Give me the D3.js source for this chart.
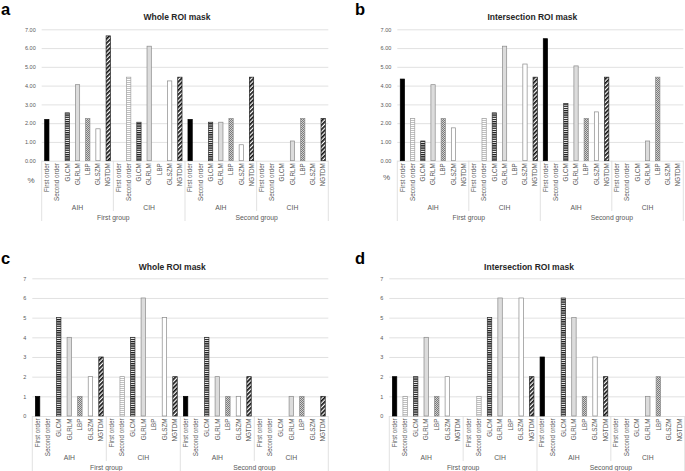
<!DOCTYPE html>
<html>
<head>
<meta charset="utf-8">
<script src="https://cdn.jsdelivr.net/npm/d3@7"></script>
<style>
  body { margin: 0; background: #fff; }
  svg { font-family: "Liberation Sans", Arial, sans-serif; }
</style>
</head>
<body>
<div id="chart"></div>
<script>
// Categories
var features = ["First order", "Second order", "GLCM", "GLRLM", "LBP", "GLSZM", "NGTDM"];
var subgroups = ["AIH", "CIH"];
var groups = ["First group", "Second group"];

// Values: rows = First group AIH, First group CIH, Second group AIH, Second group CIH
var wholePct = [
    [2.2, 0, 2.55, 4.05, 2.25, 1.7, 6.65],
    [0, 4.45, 2.05, 6.1, 0, 4.25, 4.45],
    [2.2, 0, 2.05, 2.05, 2.25, 0.85, 4.45],
    [0, 0, 0, 1.05, 2.25, 0, 2.25]
];
var interPct = [
    [4.35, 2.25, 1.05, 4.05, 2.25, 1.75, 0],
    [0, 2.25, 2.55, 6.1, 0, 5.15, 4.45],
    [6.5, 0, 3.05, 5.05, 2.25, 2.6, 4.45],
    [0, 0, 0, 1.05, 4.45, 0, 0]
];
var wholeCount = [
    [1, 0, 5, 4, 1, 2, 3],
    [0, 2, 4, 6, 0, 5, 2],
    [1, 0, 4, 2, 1, 1, 2],
    [0, 0, 0, 1, 1, 0, 1]
];
var interCount = [
    [2, 1, 2, 4, 1, 2, 0],
    [0, 1, 5, 6, 0, 6, 2],
    [3, 0, 6, 5, 1, 3, 2],
    [0, 0, 0, 1, 2, 0, 0]
];
var yTicks = [0, 1, 2, 3, 4, 5, 6, 7];

var svg = d3.select("#chart")
 .append("svg")
 .attr("width", 685)
 .attr("height", 471);

// Fill patterns
var defs = svg.append("defs");

var pSecond = defs.append("pattern")
 .attr("id", "pSecond").attr("patternUnits", "userSpaceOnUse")
 .attr("width", 4).attr("height", 2);
pSecond.append("rect").attr("width", 4).attr("height", 2).attr("fill", "#fff");
pSecond.append("rect").attr("width", 4).attr("height", 0.8).attr("fill", "#b0b0b0");

var pGlcm = defs.append("pattern")
 .attr("id", "pGlcm").attr("patternUnits", "userSpaceOnUse")
 .attr("width", 4).attr("height", 2.2);
pGlcm.append("rect").attr("width", 4).attr("height", 2.2).attr("fill", "#fff");
pGlcm.append("rect").attr("width", 4).attr("height", 1.3).attr("fill", "#1a1a1a");

var pLbp = defs.append("pattern")
 .attr("id", "pLbp").attr("patternUnits", "userSpaceOnUse")
 .attr("width", 2).attr("height", 2);
pLbp.append("rect").attr("width", 2).attr("height", 2).attr("fill", "#d0d0d0");
pLbp.append("rect").attr("width", 1).attr("height", 1).attr("fill", "#7a7a7a");
pLbp.append("rect").attr("x", 1).attr("y", 1).attr("width", 1).attr("height", 1).attr("fill", "#7a7a7a");

var pNgtdm = defs.append("pattern")
 .attr("id", "pNgtdm").attr("patternUnits", "userSpaceOnUse")
 .attr("width", 3).attr("height", 3)
 .attr("patternTransform", "rotate(-45)");
pNgtdm.append("rect").attr("width", 3).attr("height", 3).attr("fill", "#fff");
pNgtdm.append("rect").attr("width", 3).attr("height", 1.7).attr("fill", "#111");

var barStyle = {
    "First order": { fill: "#000", stroke: "#000" },
    "Second order": { fill: "url(#pSecond)", stroke: "#a0a0a0" },
    "GLCM": { fill: "url(#pGlcm)", stroke: "#333" },
    "GLRLM": { fill: "#dcdcdc", stroke: "#8a8a8a" },
    "LBP": { fill: "url(#pLbp)", stroke: "#8a8a8a" },
    "GLSZM": { fill: "#fff", stroke: "#8a8a8a" },
    "NGTDM": { fill: "url(#pNgtdm)", stroke: "#222" }
};

var gridColor = "#d9d9d9";
var textColor = "#595959";

function drawPanel(p) {
    var g = svg.append("g");

    // flatten to 28 bars
    var bars = [];
    p.values.forEach(function(row, r) {
        row.forEach(function(v, i) {
            bars.push({
                key: r + "-" + i,
                feature: features[i],
                value: v
            });
        });
    });

    var x = d3.scaleBand()
     .domain(bars.map(d => d.key))
     .range([p.x0, p.x1])
     .paddingInner(0.58)
     .paddingOuter(0.29);

    var y = d3.scaleLinear()
     .domain([0, 7])
     .range([p.y0, p.yTop]);

    // panel letter and title
    g.append("text")
     .attr("x", p.letterX).attr("y", p.letterY)
     .attr("font-size", 16.5).attr("font-weight", "bold")
     .attr("fill", "#000")
     .text(p.letter);

    g.append("text")
     .attr("x", (p.x0 + p.x1) / 2 - 8).attr("y", p.titleY)
     .attr("text-anchor", "middle")
     .attr("font-size", 8.5).attr("font-weight", "bold")
     .attr("fill", "#262626")
     .text(p.title);

    // y axis with gridlines
    var leftAxis = d3.axisLeft(y)
     .tickValues(yTicks)
     .tickSize(-(p.x1 - p.x0))
     .tickPadding(6)
     .tickFormat(p.fmt);

    var yAxis = g.append("g")
     .attr("transform", `translate(${p.x0}, 0)`)
     .call(leftAxis);
    yAxis.select(".domain").remove();
    yAxis.selectAll(".tick line").attr("stroke", gridColor).attr("stroke-width", 0.8);
    yAxis.selectAll(".tick text")
     .attr("fill", textColor)
     .attr("font-size", 5.5)
     .attr("font-family", "Liberation Sans, Arial, sans-serif");

    // bars
    g.selectAll(".bar")
     .data(bars.filter(d => d.value > 0))
     .enter()
     .append("rect")
     .attr("x", d => x(d.key))
     .attr("y", d => y(d.value))
     .attr("width", x.bandwidth())
     .attr("height", d => y(0) - y(d.value))
     .attr("fill", d => barStyle[d.feature].fill)
     .attr("stroke", d => barStyle[d.feature].stroke)
     .attr("stroke-width", 0.7);

    // category labels
    g.selectAll(".catLabel")
     .data(bars)
     .enter()
     .append("text")
     .attr("transform", d => `translate(${x(d.key) + x.bandwidth() / 2}, ${p.y0 + 2.5}) rotate(-90)`)
     .attr("dy", "0.35em")
     .attr("text-anchor", "end")
     .attr("font-size", 6.3)
     .attr("fill", textColor)
     .text(d => d.feature);

    // separators
    var w = p.x1 - p.x0;
    [0, 0.5, 1].forEach(function(f) {
        g.append("line")
         .attr("x1", p.x0 + f * w).attr("x2", p.x0 + f * w)
         .attr("y1", p.y0).attr("y2", p.bottom)
         .attr("stroke", gridColor).attr("stroke-width", 0.8);
    });
    [0.25, 0.75].forEach(function(f) {
        g.append("line")
         .attr("x1", p.x0 + f * w).attr("x2", p.x0 + f * w)
         .attr("y1", p.y0).attr("y2", p.subBottom)
         .attr("stroke", gridColor).attr("stroke-width", 0.8);
    });

    // subgroup and group labels
    [0, 1, 2, 3].forEach(function(k) {
        g.append("text")
         .attr("x", p.x0 + (k + 0.5) * w / 4).attr("y", p.subY)
         .attr("text-anchor", "middle")
         .attr("font-size", 6.8)
         .attr("fill", textColor)
         .text(subgroups[k % 2]);
    });
    groups.forEach(function(name, k) {
        g.append("text")
         .attr("x", p.x0 + (k + 0.5) * w / 2).attr("y", p.groupY)
         .attr("text-anchor", "middle")
         .attr("font-size", 6.8)
         .attr("fill", textColor)
         .text(name);
    });

    if (p.unit) {
        g.append("text")
         .attr("x", p.unitX).attr("y", p.unitY)
         .attr("text-anchor", "middle")
         .attr("font-size", 8)
         .attr("fill", textColor)
         .text(p.unit);
    }
}

var pctFmt = d3.format(".2f");
var intFmt = d3.format("d");

drawPanel({ letter: "a", title: "Whole ROI mask", values: wholePct, fmt: pctFmt,
    x0: 41.7, x1: 328.3, yTop: 29.3, y0: 160.7, bottom: 221, subBottom: 211,
    subY: 209.5, groupY: 219.5, letterX: 1, letterY: 15, titleY: 19.5,
    unit: "%", unitX: 31, unitY: 183 });

drawPanel({ letter: "b", title: "Intersection ROI mask", values: interPct, fmt: pctFmt,
    x0: 397.3, x1: 683.3, yTop: 29.3, y0: 160.7, bottom: 221, subBottom: 211,
    subY: 209.5, groupY: 219.5, letterX: 355, letterY: 15, titleY: 19.5,
    unit: "%", unitX: 386.5, unitY: 180 });

drawPanel({ letter: "c", title: "Whole ROI mask", values: wholeCount, fmt: intFmt,
    x0: 32.3, x1: 328.3, yTop: 278.3, y0: 416, bottom: 471, subBottom: 461,
    subY: 459.5, groupY: 469.5, letterX: 1, letterY: 264, titleY: 269.5 });

drawPanel({ letter: "d", title: "Intersection ROI mask", values: interCount, fmt: intFmt,
    x0: 389.3, x1: 684.7, yTop: 278.3, y0: 416, bottom: 471, subBottom: 461,
    subY: 459.5, groupY: 469.5, letterX: 355, letterY: 264, titleY: 269.5 });
</script>
</body>
</html>
